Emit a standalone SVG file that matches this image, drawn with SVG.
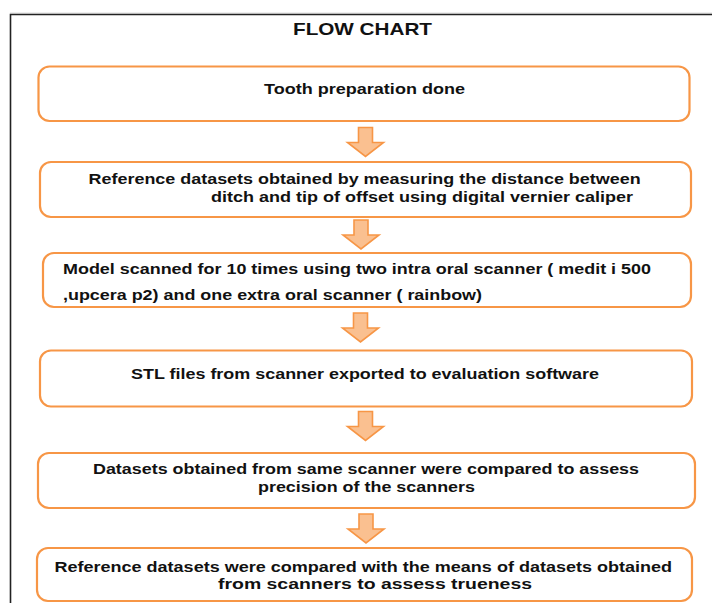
<svg xmlns="http://www.w3.org/2000/svg" xmlns:xlink="http://www.w3.org/1999/xlink" width="712" height="603" viewBox="0 0 712 603">
<style>
.box{fill:#fff;stroke:#F79646;stroke-width:2.2}
.t{font-family:"Liberation Sans",Arial,sans-serif;font-weight:bold;font-size:15.5px;fill:#111}
.arr{fill:#FAC090;stroke:#F79646;stroke-width:1.6;stroke-linejoin:miter}
</style>
<defs>
<path id="dn" class="arr" d="M-7,0 H7 V15 H18 L0,29 L-18,15 H-7 Z"/>
</defs>
<rect width="712" height="603" fill="#fff"/>
<line x1="10" y1="13" x2="712" y2="13" stroke="#ddd" stroke-width="1"/>
<path d="M10.5,603 V14.5 H712" fill="none" stroke="#222" stroke-width="1.6"/>
<text class="t" x="293" y="35" font-size="17" textLength="139" lengthAdjust="spacingAndGlyphs" style="font-size:17px">FLOW CHART</text>
<g id="n1"><rect class="box" x="38.5" y="66.5" width="651" height="54.5" rx="11"/>
<text class="t" x="264" y="93.5" textLength="201" lengthAdjust="spacingAndGlyphs">Tooth preparation done</text></g>
<g id="n2"><rect class="box" x="40" y="162" width="651" height="55" rx="11"/>
<text class="t" x="88.6" y="183.5" textLength="552" lengthAdjust="spacingAndGlyphs">Reference datasets obtained by measuring the distance between</text>
<text class="t" x="211" y="201.5" textLength="422" lengthAdjust="spacingAndGlyphs">ditch and tip of offset using digital vernier caliper</text></g>
<g id="n3"><rect class="box" x="43" y="253" width="648" height="54" rx="11"/>
<text class="t" x="63" y="273.5" textLength="588" lengthAdjust="spacingAndGlyphs">Model scanned for 10 times using two intra oral scanner ( medit i 500</text>
<text class="t" x="63" y="299.5" textLength="419" lengthAdjust="spacingAndGlyphs">,upcera p2) and one extra oral scanner ( rainbow)</text></g>
<g id="n4"><rect class="box" x="40" y="350.5" width="652" height="56" rx="11"/>
<text class="t" x="131" y="378.5" textLength="468" lengthAdjust="spacingAndGlyphs">STL files from scanner exported to evaluation software</text></g>
<g id="n5"><rect class="box" x="38" y="453" width="657" height="55" rx="11"/>
<text class="t" x="93" y="473.5" textLength="546" lengthAdjust="spacingAndGlyphs">Datasets obtained from same scanner were compared to assess</text>
<text class="t" x="258" y="491.5" textLength="217" lengthAdjust="spacingAndGlyphs">precision of the scanners</text></g>
<g id="n6"><rect class="box" x="37" y="548" width="655" height="53" rx="11"/>
<text class="t" x="54.5" y="571.5" textLength="617.5" lengthAdjust="spacingAndGlyphs">Reference datasets were compared with the means of datasets obtained</text>
<text class="t" x="218" y="588.5" textLength="314" lengthAdjust="spacingAndGlyphs">from scanners to assess trueness</text></g>
<g id="connectors">
<use xlink:href="#dn" x="365.5" y="127.5"/>
<use xlink:href="#dn" x="361" y="220"/>
<use xlink:href="#dn" x="360.5" y="313"/>
<use xlink:href="#dn" x="365.5" y="411.5"/>
<use xlink:href="#dn" x="366" y="514"/>
</g>
</svg>
